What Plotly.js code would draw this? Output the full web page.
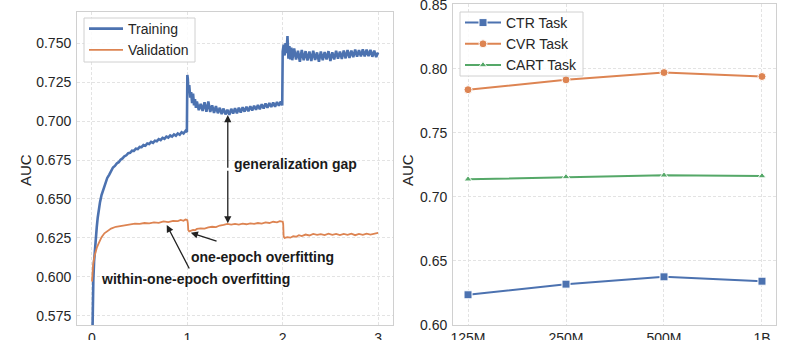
<!DOCTYPE html>
<html>
<head>
<meta charset="utf-8">
<script src="https://cdn.plot.ly/plotly-3.0.1.min.js"></script>
<style>html,body{margin:0;padding:0;background:#fff;}#chart{width:799px;height:340px;}</style>
</head>
<body>
<div id="chart"></div>
<script>
// ---------- Left panel: training / validation AUC vs epoch ----------
const trainEpoch = [
  0, 0.003, 0.008, 0.014, 0.022, 0.03, 0.042, 0.05, 0.06, 0.07, 0.084, 0.1, 0.12, 0.14, 0.16, 0.18, 0.2, 0.22, 0.24, 0.26, 0.28, 0.3, 0.32, 0.34, 0.36, 0.38, 0.4, 0.42, 0.44, 0.46, 0.48, 0.5, 0.52, 0.54, 0.56, 0.58, 0.6, 0.62, 0.64, 0.66, 0.68, 0.7, 0.72, 0.74, 0.76, 0.78, 0.8, 0.82, 0.84, 0.86, 0.88, 0.9, 0.92, 0.94, 0.96, 0.98, 0.995,
  1.0, 1.005, 1.01, 1.02, 1.03, 1.04, 1.05, 1.06, 1.07, 1.08, 1.09, 1.1, 1.12, 1.14, 1.16, 1.18, 1.2, 1.22, 1.24, 1.26, 1.28, 1.3, 1.32, 1.34, 1.36, 1.38, 1.4, 1.42, 1.44, 1.46, 1.48, 1.5, 1.52, 1.54, 1.56, 1.58, 1.6, 1.62, 1.64, 1.66, 1.68, 1.7, 1.72, 1.74, 1.76, 1.78, 1.8, 1.82, 1.84, 1.86, 1.88, 1.9, 1.92, 1.94, 1.96, 1.98, 1.995,
  2.0, 2.01, 2.02, 2.03, 2.04, 2.05, 2.06, 2.07, 2.08, 2.09, 2.1, 2.12, 2.14, 2.16, 2.18, 2.2, 2.22, 2.24, 2.26, 2.28, 2.3, 2.32, 2.34, 2.36, 2.38, 2.4, 2.42, 2.44, 2.46, 2.48, 2.5, 2.52, 2.54, 2.56, 2.58, 2.6, 2.62, 2.64, 2.66, 2.68, 2.7, 2.72, 2.74, 2.76, 2.78, 2.8, 2.82, 2.84, 2.86, 2.88, 2.9, 2.92, 2.94, 2.96, 2.98, 3.0
];
const trainAUC = [
  0.545, 0.570, 0.588, 0.598, 0.610, 0.618, 0.627, 0.632, 0.638, 0.643, 0.648, 0.6525, 0.6565, 0.660, 0.6635, 0.6655, 0.668, 0.6702, 0.6712, 0.6728, 0.6736, 0.6752, 0.6760, 0.6774, 0.6780, 0.6794, 0.6796, 0.6810, 0.6808, 0.6822, 0.6820, 0.6834, 0.6832, 0.6846, 0.6842, 0.6856, 0.6852, 0.6866, 0.6860, 0.6874, 0.6870, 0.6884, 0.6878, 0.6892, 0.6886, 0.6900, 0.6894, 0.6908, 0.6900, 0.6914, 0.6906, 0.6920, 0.6912, 0.6928, 0.6920, 0.6936, 0.6930,
  0.7295, 0.7270, 0.7195, 0.7230, 0.7150, 0.7185, 0.7115, 0.7175, 0.7100, 0.7140, 0.7085, 0.7125, 0.7070, 0.7110, 0.7065, 0.7120, 0.7060, 0.7125, 0.7058, 0.7100, 0.7052, 0.7095, 0.7050, 0.7085, 0.7045, 0.7080, 0.7042, 0.7072, 0.7040, 0.7078, 0.7048, 0.7082, 0.7050, 0.7085, 0.7055, 0.7088, 0.7060, 0.7092, 0.7063, 0.7095, 0.7068, 0.7098, 0.7072, 0.7102, 0.7075, 0.7108, 0.7080, 0.7112, 0.7085, 0.7115, 0.7090, 0.7118, 0.7092, 0.7122, 0.7098, 0.7125, 0.7100,
  0.7445, 0.7490, 0.7420, 0.7500, 0.7435, 0.7545, 0.7400, 0.7480, 0.7395, 0.7470, 0.7390, 0.7465, 0.7395, 0.7450, 0.7380, 0.7455, 0.7390, 0.7448, 0.7388, 0.7445, 0.7385, 0.7450, 0.7392, 0.7440, 0.7380, 0.7445, 0.7390, 0.7442, 0.7395, 0.7448, 0.7385, 0.7440, 0.7395, 0.7450, 0.7400, 0.7446, 0.7398, 0.7452, 0.7402, 0.7455, 0.7405, 0.7452, 0.7410, 0.7458, 0.7412, 0.7455, 0.7415, 0.7460, 0.7414, 0.7458, 0.7416, 0.7456, 0.7412, 0.7452, 0.7410, 0.7440
];
const valEpoch = [
  0, 0.005, 0.012, 0.025, 0.04, 0.052, 0.07, 0.1, 0.13, 0.16, 0.2, 0.25, 0.3, 0.35, 0.4, 0.45, 0.5, 0.55, 0.6, 0.65, 0.7, 0.75, 0.8, 0.85, 0.9, 0.93, 0.96, 0.98, 0.995,
  1.0, 1.005, 1.01, 1.02, 1.04, 1.06, 1.08, 1.1, 1.14, 1.18, 1.22, 1.26, 1.3, 1.34, 1.38, 1.42, 1.46, 1.5, 1.54, 1.58, 1.62, 1.66, 1.7, 1.74, 1.78, 1.82, 1.86, 1.9, 1.94, 1.97, 1.995,
  2.0, 2.005, 2.01, 2.02, 2.05, 2.08, 2.11, 2.14, 2.17, 2.2, 2.24, 2.28, 2.32, 2.36, 2.4, 2.44, 2.48, 2.52, 2.56, 2.6, 2.64, 2.68, 2.72, 2.76, 2.8, 2.84, 2.88, 2.92, 2.96, 3.0
];
const valAUC = [
  0.597, 0.603, 0.608, 0.613, 0.6165, 0.619, 0.6215, 0.6255, 0.628, 0.6295, 0.631, 0.6322, 0.6328, 0.6334, 0.6336, 0.6342, 0.6340, 0.6346, 0.6344, 0.6350, 0.6347, 0.6356, 0.6352, 0.6360, 0.6358, 0.6366, 0.6360, 0.6368, 0.6366,
  0.6364, 0.6345, 0.6300, 0.6292, 0.6298, 0.6302, 0.6300, 0.6308, 0.6312, 0.6310, 0.6318, 0.6322, 0.6320, 0.6330, 0.6334, 0.6340, 0.6336, 0.6340, 0.6336, 0.6342, 0.6338, 0.6344, 0.6340, 0.6346, 0.6342, 0.6350, 0.6346, 0.6354, 0.6350, 0.6358, 0.6355,
  0.6355, 0.6340, 0.6260, 0.6250, 0.6255, 0.6252, 0.6262, 0.6258, 0.6268, 0.6262, 0.6272, 0.6266, 0.6276, 0.6270, 0.6275, 0.6268, 0.6278, 0.6270, 0.6276, 0.6268, 0.6276, 0.6270, 0.6278, 0.6268, 0.6276, 0.6270, 0.6278, 0.6272, 0.6278, 0.6282
];
const epochTicks = [0, 1, 2, 3];
const leftYTicks = [0.575, 0.600, 0.625, 0.650, 0.675, 0.700, 0.725, 0.750];

// ---------- Right panel: AUC vs model size ----------
const modelSizes = ['125M', '250M', '500M', '1B'];
const ctrAUC  = [0.6236, 0.6319, 0.6376, 0.6342];
const cvrAUC  = [0.7837, 0.7914, 0.7971, 0.7940];
const cartAUC = [0.7138, 0.7156, 0.7169, 0.7163];
const rightYTicks = [0.60, 0.65, 0.70, 0.75, 0.80, 0.85];

const BLUE = '#4C72B0', ORANGE = '#DD8452', GREEN = '#55A868';
const FONT = 'Liberation Sans, Arial, sans-serif';
const TXT = '#262626';

const traces = [
  {x: trainEpoch, y: trainAUC, type: 'scatter', mode: 'lines', name: 'Training',
   line: {color: BLUE, width: 2.6}, xaxis: 'x', yaxis: 'y', legend: 'legend'},
  {x: valEpoch, y: valAUC, type: 'scatter', mode: 'lines', name: 'Validation',
   line: {color: ORANGE, width: 1.8}, xaxis: 'x', yaxis: 'y', legend: 'legend'},
  {x: modelSizes, y: ctrAUC, type: 'scatter', mode: 'lines+markers', name: 'CTR Task',
   line: {color: BLUE, width: 2}, marker: {symbol: 'square', size: 8, color: BLUE, line: {color: '#fff', width: 1}},
   xaxis: 'x2', yaxis: 'y2', legend: 'legend2'},
  {x: modelSizes, y: cvrAUC, type: 'scatter', mode: 'lines+markers', name: 'CVR Task',
   line: {color: ORANGE, width: 2}, marker: {symbol: 'circle', size: 8, color: ORANGE, line: {color: '#fff', width: 1}},
   xaxis: 'x2', yaxis: 'y2', legend: 'legend2'},
  {x: modelSizes, y: cartAUC, type: 'scatter', mode: 'lines+markers', name: 'CART Task',
   line: {color: GREEN, width: 2}, marker: {symbol: 'triangle-up', size: 7, color: GREEN, line: {color: '#fff', width: 1}},
   xaxis: 'x2', yaxis: 'y2', legend: 'legend2'}
];

const axisCommon = {
  showgrid: true, gridcolor: '#e3e3e3', griddash: '3px,2px', gridwidth: 1,
  showline: true, linecolor: '#d0d0d0', linewidth: 1, mirror: true,
  zeroline: false, ticks: '', tickfont: {family: FONT, size: 14, color: TXT},
  ticklabeloverflow: 'allow'
};

const arrowStyle = {showarrow: true, arrowhead: 2, arrowsize: 1.1, arrowwidth: 1.3, arrowcolor: '#222',
  xref: 'x', yref: 'y', axref: 'x', ayref: 'y', text: ''};
const boldFont = {family: FONT, size: 14, color: '#1a1a1a', weight: 'bold'};

function box(x0, y0, x1, y1) {
  return {type: 'rect', xref: 'paper', yref: 'paper', layer: 'above',
    x0: x0 / 799, x1: x1 / 799, y0: 1 - y1 / 340, y1: 1 - y0 / 340,
    fillcolor: 'rgba(255,255,255,0.85)', line: {color: '#d0d0d0', width: 1}};
}

const legendCommon = {xanchor: 'left', yanchor: 'top', bgcolor: 'rgba(0,0,0,0)', borderwidth: 0,
  font: {family: FONT, size: 14, color: TXT}, tracegroupgap: 0};

const layout = {
  width: 799, height: 340,
  margin: {l: 0, r: 0, t: 0, b: 0},
  paper_bgcolor: '#fff', plot_bgcolor: '#fff',
  showlegend: true,
  xaxis: Object.assign({}, axisCommon, {domain: [0.0964, 0.4919], range: [-0.157, 3.157],
    tickvals: epochTicks, anchor: 'y'}),
  yaxis: Object.assign({}, axisCommon, {domain: [0.0441, 0.9647], range: [0.5692, 0.7699],
    tickvals: leftYTicks, tickformat: '.3f', anchor: 'x', ticklabelstandoff: 2}),
  xaxis2: Object.assign({}, axisCommon, {domain: [0.567, 0.9712], range: [-0.153, 3.143],
    type: 'category', categoryorder: 'array', categoryarray: modelSizes, anchor: 'y2'}),
  yaxis2: Object.assign({}, axisCommon, {domain: [0.0441, 0.9882], range: [0.60, 0.8506],
    tickvals: rightYTicks, tickformat: '.2f', anchor: 'x2', ticklabelstandoff: 2}),
  legend: Object.assign({}, legendCommon, {x: 84 / 799, y: 1 - 13 / 340, itemwidth: 34}),
  legend2: Object.assign({}, legendCommon, {x: 460 / 799, y: 1 - 7 / 340, itemwidth: 36}),
  shapes: [box(84, 18, 195, 62), box(460, 12, 583, 76)],
  annotations: [
    {xref: 'paper', yref: 'paper', x: 25/799, y: 0.5, xanchor: 'center', yanchor: 'middle',
     text: 'AUC', showarrow: false, textangle: -90, font: {family: FONT, size: 15, color: TXT}},
    {xref: 'paper', yref: 'paper', x: 407/799, y: 0.5, xanchor: 'center', yanchor: 'middle',
     text: 'AUC', showarrow: false, textangle: -90, font: {family: FONT, size: 15, color: TXT}},
    // generalization gap double arrow
    Object.assign({}, arrowStyle, {x: 1.424, y: 0.7038, ax: 1.424, ay: 0.6690, standoff: 0}),
    Object.assign({}, arrowStyle, {x: 1.424, y: 0.6344, ax: 1.424, ay: 0.6690, standoff: 0}),
    {xref: 'x', yref: 'y', x: 1.469, y: 0.6724, xanchor: 'left', yanchor: 'middle', showarrow: false,
     text: 'generalization gap', font: boldFont},
    // one-epoch overfitting
    Object.assign({}, arrowStyle, {x: 1.036, y: 0.6284, ax: 1.322, ay: 0.6226}),
    {xref: 'x', yref: 'y', x: 1.018, y: 0.6126, xanchor: 'left', yanchor: 'middle', showarrow: false,
     text: 'one-epoch overfitting', font: boldFont},
    // within-one-epoch overfitting
    Object.assign({}, arrowStyle, {x: 0.784, y: 0.6333, ax: 1.028, ay: 0.6045}),
    {xref: 'x', yref: 'y', x: 0.073, y: 0.5985, xanchor: 'left', yanchor: 'middle', showarrow: false,
     text: 'within-one-epoch overfitting', font: boldFont}
  ]
};

Plotly.newPlot('chart', traces, layout, {displayModeBar: false, staticPlot: true});
</script>
</body>
</html>
